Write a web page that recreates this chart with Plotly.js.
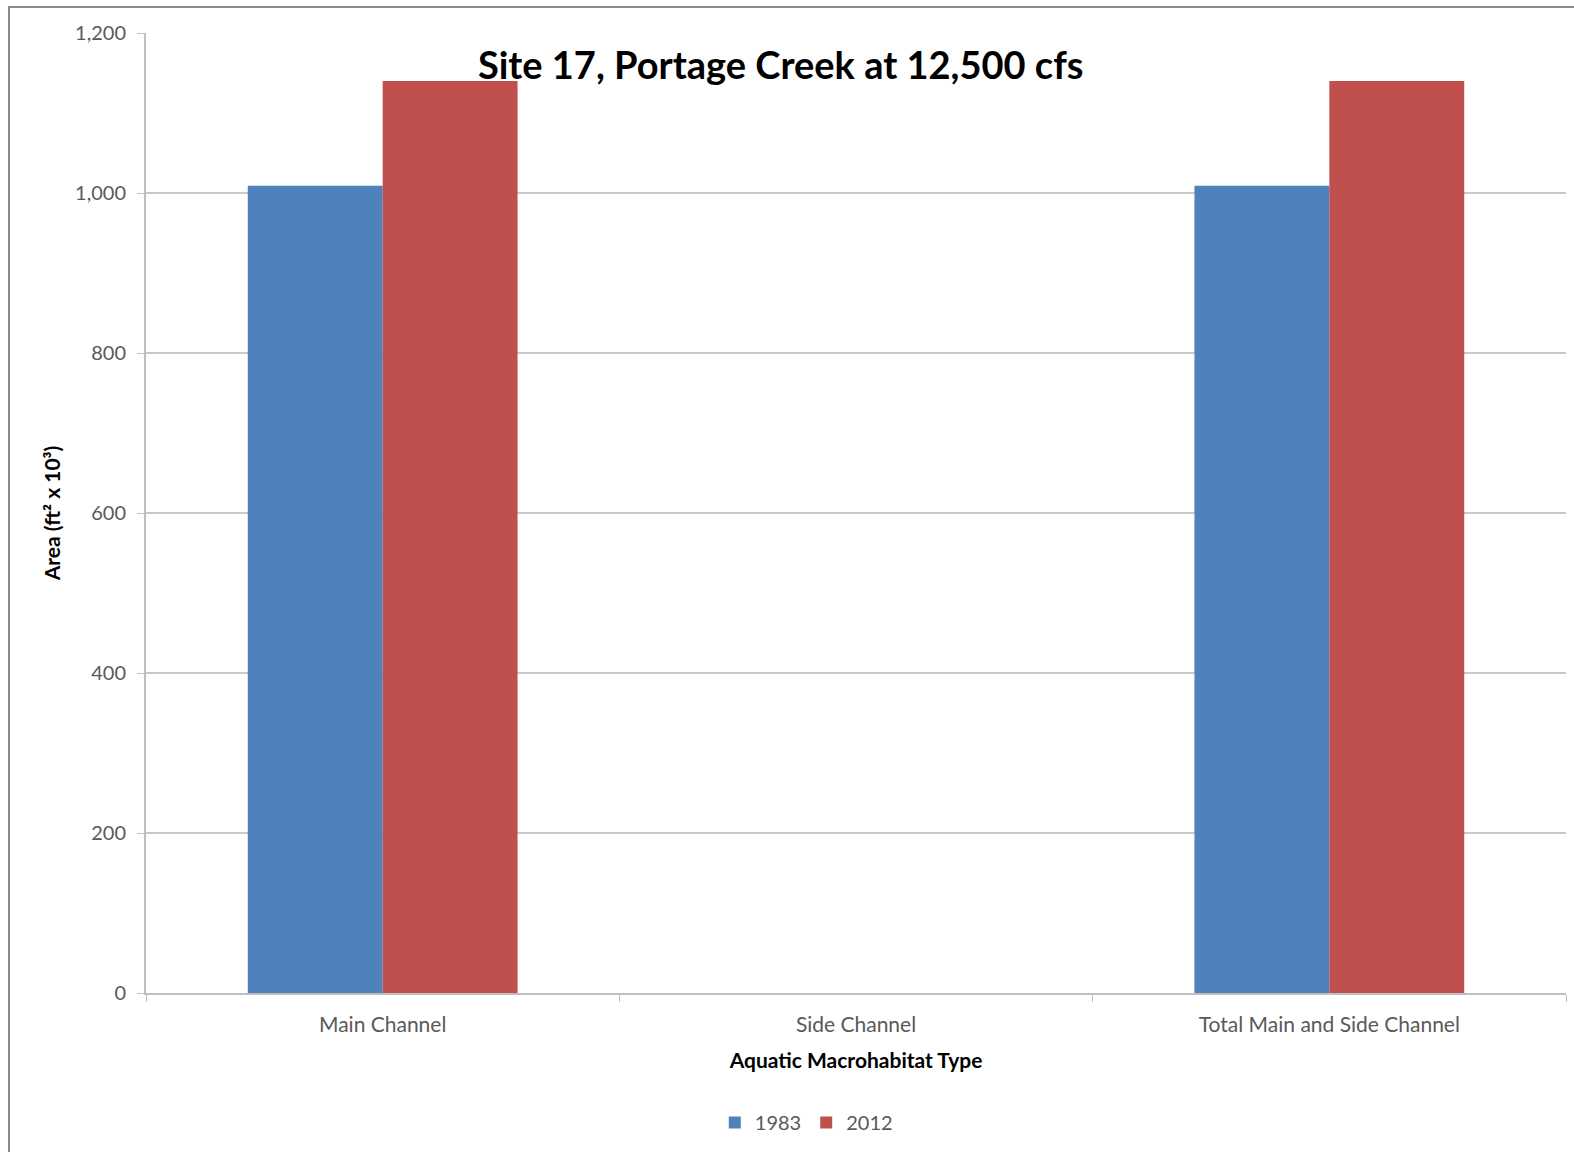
<!DOCTYPE html>
<html>
<head>
<meta charset="utf-8">
<script src="https://cdn.plot.ly/plotly-3.0.1.min.js"></script>
<style>
  html, body { margin: 0; padding: 0; background: #fff; }
  #wrap { position: relative; width: 1574px; height: 1152px; }
  #chart { position: absolute; left: 0; top: 0; width: 1574px; height: 1152px; }
  #frame { position: absolute; left: 8px; top: 6px; width: 1580px; height: 1160px;
           border-left: 2px solid #8a8a8a; border-top: 2px solid #8a8a8a; pointer-events: none; }
</style>
</head>
<body>
<div id="wrap">
  <div id="chart"></div>
  <div id="frame"></div>
</div>
<script>
const categories = ["Main Channel", "Side Channel", "Total Main and Side Channel"];
const series1983 = [1009, 0, 1009];
const series2012 = [1140, 0, 1140];
const seriesNames = ["1983", "2012"];
const yTickValues = [0, 200, 400, 600, 800, 1000, 1200];

const FONT = "Lato, 'Open Sans', sans-serif";

const traces = [
  { type: "bar", name: seriesNames[0], x: categories, y: series1983,
    marker: { color: "#4F81BD" }, hoverinfo: "x+y+name" },
  { type: "bar", name: seriesNames[1], x: categories, y: series2012,
    marker: { color: "#C0504D" }, hoverinfo: "x+y+name" }
];

const layout = {
  width: 1574, height: 1152,
  margin: { l: 146, r: 8, t: 33, b: 159 },
  paper_bgcolor: "#ffffff", plot_bgcolor: "#ffffff",
  font: { family: FONT, color: "#595959", size: 20 },
  barmode: "group",
  bargap: 0.43, bargroupgap: 0,
  title: { text: "<b>Site 17, Portage Creek at 12,500 cfs</b>",
           font: { family: FONT, size: 38, color: "#000000" },
           x: 0.496, xanchor: "center", y: 0.943, yanchor: "middle" },
  xaxis: {
    type: "category",
    title: { text: "<b>Aquatic Macrohabitat Type</b>", font: { family: FONT, size: 21, color: "#000000" }, standoff: 18 },
    tickfont: { family: FONT, size: 21, color: "#595959" },
    ticklabelstandoff: 12,
    showgrid: false, showline: true, linecolor: "#bfbfbf", linewidth: 2,
    ticks: "outside", tickson: "boundaries", ticklen: 7, tickcolor: "#bfbfbf", tickwidth: 1,
    zeroline: false
  },
  yaxis: {
    range: [0, 1200], tickvals: yTickValues, tickformat: ",d",
    title: { text: "<b>Area (ft² x 10³)</b>", font: { family: FONT, size: 21, color: "#000000" }, standoff: 9 },
    tickfont: { family: FONT, size: 20, color: "#595959" },
    ticklabelstandoff: 7,
    showgrid: true, gridcolor: "#c8c8c8", gridwidth: 1.5,
    showline: true, linecolor: "#bfbfbf", linewidth: 2,
    ticks: "outside", ticklen: 7, tickcolor: "#bfbfbf",
    zeroline: false
  },
  showlegend: true,
  legend: { orientation: "h", x: 0.465, xanchor: "center", y: -0.135, yanchor: "middle",
            font: { family: FONT, size: 20, color: "#595959" }, itemwidth: 30 }
};

Plotly.newPlot("chart", traces, layout, { displayModeBar: false });
</script>
</body>
</html>
